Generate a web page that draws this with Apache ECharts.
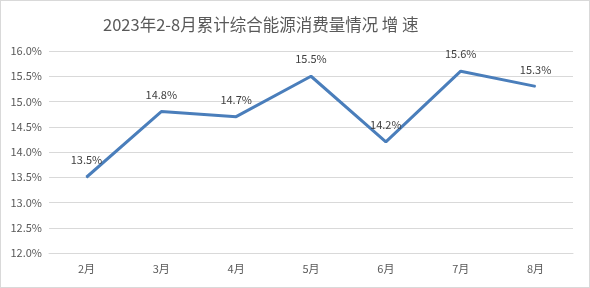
<!DOCTYPE html>
<html><head><meta charset="utf-8">
<script src="https://cdn.jsdelivr.net/npm/echarts@6/dist/echarts.min.js"></script>
<style>html,body{margin:0;padding:0;background:#fff}#c{width:588px;height:286px;border:1px solid #d9d9d9}</style>
</head><body><div id="c"></div>
<script>
const categories = ['2月','3月','4月','5月','6月','7月','8月'];
const growth = [13.5, 14.8, 14.7, 15.5, 14.2, 15.6, 15.3];
const titleText = '2023年2-8月累计综合能源消费量情况 增 速';
const chart = echarts.init(document.getElementById('c'));
const font = '"Noto Sans CJK SC", "Microsoft YaHei", sans-serif';
chart.setOption({
  animation:false,
  title:{text:titleText,left:97,top:10,textStyle:{fontSize:16.5,fontWeight:'normal',color:'#595959',fontFamily:font}},
  grid:{left:48,right:16,top:50,bottom:34},
  xAxis:{type:'category',data:categories,boundaryGap:true,
    axisLine:{lineStyle:{color:'#d9d9d9'}},axisTick:{show:false},
    axisLabel:{color:'#595959',fontSize:11,fontFamily:font,margin:10}},
  yAxis:{type:'value',min:12,max:16,interval:0.5,
    axisLine:{show:false},axisTick:{show:false},
    splitLine:{lineStyle:{color:'#d9d9d9'}},
    axisLabel:{color:'#595959',fontSize:11,fontFamily:font,margin:7,formatter:v=>v.toFixed(1)+'%'}},
  series:[{type:'line',data:growth,symbol:'circle',symbolSize:1,showSymbol:true,
    itemStyle:{color:'#4a7ebb'},lineStyle:{color:'#4a7ebb',width:3},
    label:{show:true,position:'top',distance:11,color:'#404040',fontSize:11,fontFamily:font,formatter:p=>p.value.toFixed(1)+'%'}}]
});
</script></body></html>
